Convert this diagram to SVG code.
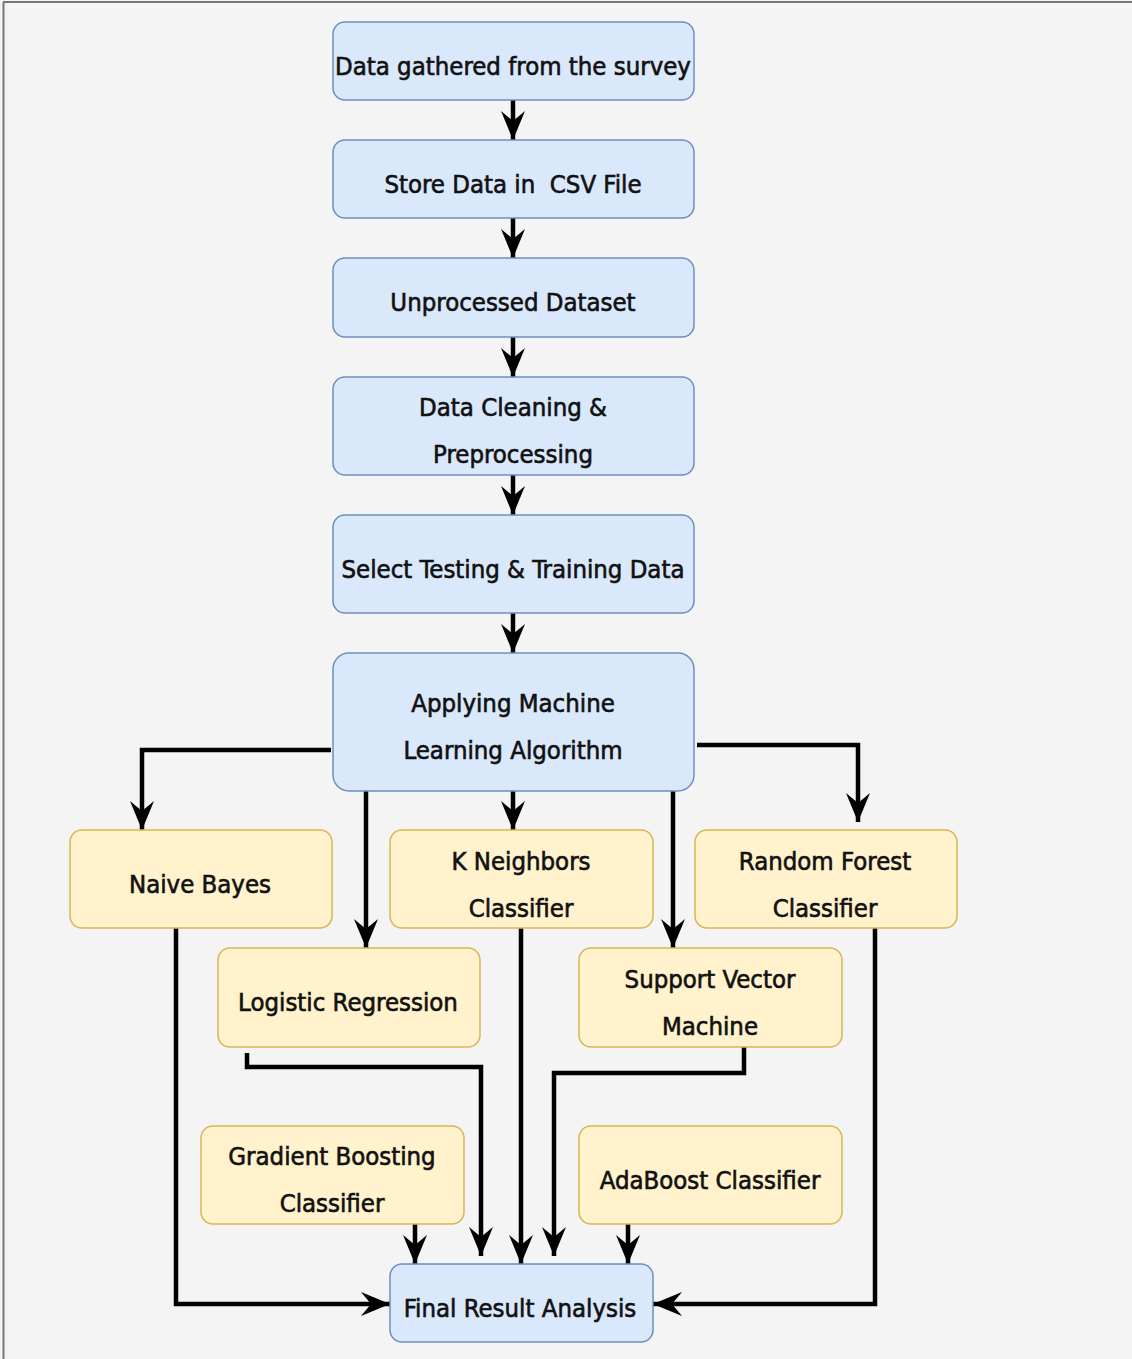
<svg xmlns="http://www.w3.org/2000/svg" width="1132" height="1359" viewBox="0 0 1132 1359">
  <defs>
    <marker id="arrow" markerUnits="userSpaceOnUse" markerWidth="32" markerHeight="28" refX="30" refY="14" orient="auto" viewBox="0 0 32 28">
      <path d="M30,14 L1,2 L11,14 L1,26 Z" fill="#000"/>
    </marker>
    <style>
      .blue { fill: #dae8fc; stroke: #6c8ebf; stroke-width: 1.5; }
      .yellow { fill: #fff2cc; stroke: #d6b656; stroke-width: 1.5; }
      .label { font-family: "DejaVu Sans Condensed", "DejaVu Sans", sans-serif; font-size: 25.5px; fill: #111; stroke: #111; stroke-width: 0.6; text-anchor: middle; }
      .edge { fill: none; stroke: #000; stroke-width: 4.5; marker-end: url(#arrow); }
    </style>
  </defs>

  <!-- canvas -->
  <rect x="0" y="0" width="1132" height="1359" fill="#f4f4f4"/>
  <line x1="3.5" y1="2" x2="3.5" y2="1359" stroke="#777" stroke-width="2"/>
  <line x1="3" y1="2" x2="1132" y2="2" stroke="#777" stroke-width="2"/>

  <!-- connectors -->
  <g id="connectors">
    <path class="edge" d="M513,100 V140"/>
    <path class="edge" d="M513,218 V258"/>
    <path class="edge" d="M513,337 V377"/>
    <path class="edge" d="M513,475 V515"/>
    <path class="edge" d="M513,613 V653"/>
    <path class="edge" d="M331,750 H142 V830"/>
    <path class="edge" d="M366,791 V948"/>
    <path class="edge" d="M513,791 V830"/>
    <path class="edge" d="M673,791 V948"/>
    <path class="edge" d="M697,745 H858 V822"/>
    <path class="edge" d="M176,928 V1304 H390"/>
    <path class="edge" d="M875,928 V1304 H653"/>
    <path class="edge" d="M247,1053 V1067 H481 V1256"/>
    <path class="edge" d="M521,928 V1264"/>
    <path class="edge" d="M744,1047 V1073 H554 V1256"/>
    <path class="edge" d="M415,1224 V1264"/>
    <path class="edge" d="M628,1224 V1264"/>
  </g>

  <!-- process steps -->
  <g id="node-survey">
    <rect class="blue" x="333" y="22" width="361" height="78" rx="12"/>
    <text class="label" x="513" y="75">Data gathered from the survey</text>
  </g>
  <g id="node-csv">
    <rect class="blue" x="333" y="140" width="361" height="78" rx="12"/>
    <text class="label" x="513" y="193" xml:space="preserve">Store Data in  CSV File</text>
  </g>
  <g id="node-unprocessed">
    <rect class="blue" x="333" y="258" width="361" height="79" rx="12"/>
    <text class="label" x="513" y="311">Unprocessed Dataset</text>
  </g>
  <g id="node-cleaning">
    <rect class="blue" x="333" y="377" width="361" height="98" rx="12"/>
    <text class="label" x="513" y="416">Data Cleaning &amp;</text>
    <text class="label" x="513" y="463">Preprocessing</text>
  </g>
  <g id="node-split">
    <rect class="blue" x="333" y="515" width="361" height="98" rx="12"/>
    <text class="label" x="513" y="578">Select Testing &amp; Training Data</text>
  </g>
  <g id="node-ml">
    <rect class="blue" x="333" y="653" width="361" height="138" rx="16"/>
    <text class="label" x="513" y="712">Applying Machine</text>
    <text class="label" x="513" y="759">Learning Algorithm</text>
  </g>

  <!-- classifiers -->
  <g id="node-naive-bayes">
    <rect class="yellow" x="70" y="830" width="262" height="98" rx="12"/>
    <text class="label" x="200" y="893">Naive Bayes</text>
  </g>
  <g id="node-knn">
    <rect class="yellow" x="390" y="830" width="263" height="98" rx="12"/>
    <text class="label" x="521" y="870">K Neighbors</text>
    <text class="label" x="521" y="917">Classifier</text>
  </g>
  <g id="node-random-forest">
    <rect class="yellow" x="695" y="830" width="262" height="98" rx="12"/>
    <text class="label" x="825" y="870">Random Forest</text>
    <text class="label" x="825" y="917">Classifier</text>
  </g>
  <g id="node-logistic">
    <rect class="yellow" x="218" y="948" width="262" height="99" rx="12"/>
    <text class="label" x="348" y="1011">Logistic Regression</text>
  </g>
  <g id="node-svm">
    <rect class="yellow" x="579" y="948" width="263" height="99" rx="12"/>
    <text class="label" x="710" y="988">Support Vector</text>
    <text class="label" x="710" y="1035">Machine</text>
  </g>
  <g id="node-gradient-boosting">
    <rect class="yellow" x="201" y="1126" width="263" height="98" rx="12"/>
    <text class="label" x="332" y="1165">Gradient Boosting</text>
    <text class="label" x="332" y="1212">Classifier</text>
  </g>
  <g id="node-adaboost">
    <rect class="yellow" x="579" y="1126" width="263" height="98" rx="12"/>
    <text class="label" x="710" y="1189">AdaBoost Classifier</text>
  </g>

  <!-- result -->
  <g id="node-final">
    <rect class="blue" x="390" y="1264" width="263" height="78" rx="12"/>
    <text class="label" x="520" y="1317">Final Result Analysis</text>
  </g>
</svg>
